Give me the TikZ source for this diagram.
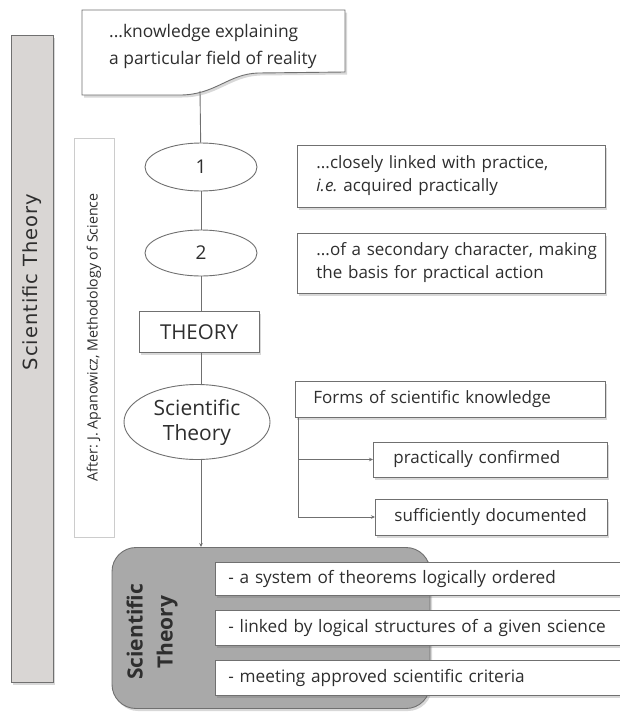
\documentclass[tikz,border=0pt]{standalone}
\usepackage{fontspec}
\setmainfont{Open Sans}
\newfontfamily\barfont[LetterSpace=5]{DejaVu Sans}
\usetikzlibrary{shapes.geometric,shadows,calc,arrows.meta}
\definecolor{linec}{HTML}{707070}
\definecolor{textc}{HTML}{2E2E2E}
\definecolor{barfill}{HTML}{D9D6D4}
\definecolor{gbfill}{HTML}{A9A9A9}
\tikzset{
  shad/.style={drop shadow={shadow xshift=2pt, shadow yshift=-2.5pt, opacity=0.25, fill=black!60}},
  conn/.style={draw=linec, line width=0.9pt},
  arr/.style={conn, -{Stealth[length=4pt,width=3.5pt]}},
  oval/.style={ellipse, draw=linec, line width=0.9pt, fill=white, inner sep=0pt, text=textc},
  wbox/.style={draw=linec, line width=0.9pt, fill=white, shad, text=textc},
  tbox/.style={wbox, align=left, inner ysep=0pt},
  every node/.style={font=\fontsize{17}{23}\selectfont, text=textc}
}
\begin{document}
\begin{tikzpicture}[x=1pt,y=-1pt]
\useasboundingbox (0,0) rectangle (620,715);
\fill[white] (0,0) rectangle (620,715);

% left bar
\node[draw=linec, line width=0.9pt, fill=barfill, shad, minimum width=42, minimum height=647, inner sep=0] (bar) at (32,358.5) {};
\node[rotate=90] (bartext) at (32,282) {\barfont\fontsize{19.5}{19.5}\selectfont Scientific Theory};

% source box
\node[draw=black!20, line width=0.6pt, fill=white, minimum width=40, minimum height=399, inner sep=0] (after) at (94,337.5) {};
\node[rotate=90, font=\fontsize{14.2}{14}\selectfont] (aftertext) at (after.center) {After: J. Apanowicz, Methodology of Science};

% top document shape
\draw[draw=linec, line width=0.9pt, fill=white, shad] (82,10) -- (345,10) -- (345,72) -- (258,73) .. controls (228,74) and (215,95) .. (180,95) -- (82,95) -- cycle;
\node[anchor=north west, align=left, inner sep=0, font=\fontsize{17.4}{27}\selectfont] (top) at (109,24) {...knowledge explaining\\a particular field of reality};
\coordinate (topout) at (200,91);

% main column
\node[oval, minimum width=112, minimum height=48, font=\fontsize{19}{19}\selectfont] (e1) at (201,167) {1};
\node[oval, minimum width=112, minimum height=46, font=\fontsize{19}{19}\selectfont] (e2) at (201,253) {2};
\node[wbox, minimum width=120, minimum height=41, inner sep=0, font=\fontsize{20.5}{20}\selectfont] (th) at (199,332) {THEORY};
\node[oval, minimum width=146, minimum height=75, align=center, font=\fontsize{21}{25}\selectfont] (st) at (197,422) {Scientific\\Theory};

% gray box
\node[draw=linec, line width=0.9pt, fill=gbfill, shad, rounded corners=24pt, minimum width=318, minimum height=161, inner sep=0] (gb) at (271,628) {};
\node[rotate=90, align=center, font=\bfseries\fontsize{21}{30}\selectfont] (gbtext) at (152,632) {Scientific\\Theory};

\draw[conn] (topout) -- (e1);
\draw[conn] (e1) -- (e2);
\draw[conn] (e2.south) -- (e2.south |- th.north);
\draw[conn] (th.south -| e2.south) -- (e2.south |- st.north);
\draw[arr] (st.south -| e2.south) -- (e2.south |- gb.north);

% right boxes
\node[tbox, anchor=west, text width=270, inner xsep=19, minimum height=62] (a) at (297,176) {...closely linked with practice,\\\textit{i.e.}\ acquired practically};
\node[tbox, anchor=west, text width=270, inner xsep=19, minimum height=60] (b) at (297,263) {\mbox{...of a secondary character, making}\\the basis for practical action};
\node[tbox, anchor=west, text width=274, inner xsep=18, minimum height=36] (c) at (295,399) {Forms of scientific knowledge};
\node[tbox, anchor=west, text width=194, inner xsep=20, minimum height=35] (d) at (373,459.5) {practically confirmed};
\node[tbox, anchor=west, text width=194, inner xsep=19, minimum height=36] (e) at (375,517) {sufficiently documented};
\draw[arr] ($(c.south west)+(3,0)$) |- (d.west);
\draw[arr] ($(c.south west)+(3,0)$) |- (e.west);

% inner boxes
\node[tbox, anchor=west, text width=384, inner xsep=13, minimum height=33, font=\fontsize{17.2}{21}\selectfont] (i1) at (215,578.5) {- a system of theorems logically ordered};
\node[tbox, anchor=west, text width=384, inner xsep=13, minimum height=35, font=\fontsize{17.2}{21}\selectfont] (i2) at (215,627.5) {- linked by logical structures of a given science};
\node[tbox, anchor=west, text width=384, inner xsep=13, minimum height=35, font=\fontsize{17.2}{21}\selectfont] (i3) at (215,677.5) {- meeting approved scientific criteria};
\end{tikzpicture}
\end{document}
